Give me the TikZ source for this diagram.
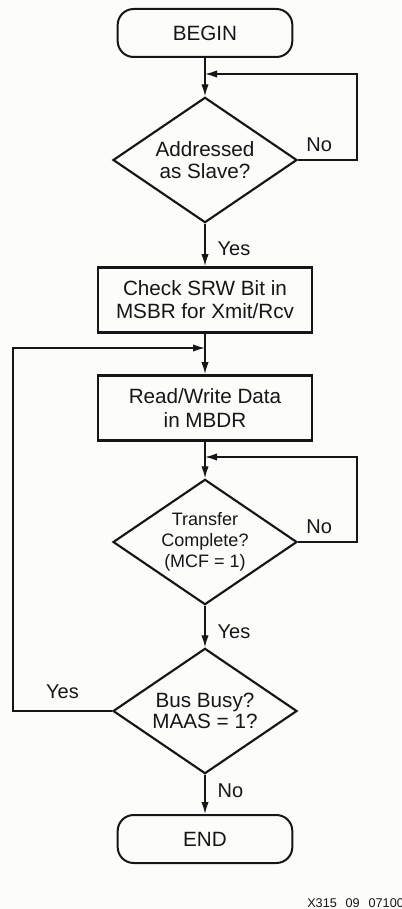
\documentclass[tikz,border=0pt]{standalone}
\usepackage{fontspec}
\setmainfont{Liberation Sans}
\usetikzlibrary{arrows.meta,shapes.geometric}

\begin{document}
\begin{tikzpicture}[x=0.75pt,y=-0.75pt,>={Latex[length=9pt,width=5.5pt]}]

\definecolor{paper}{RGB}{252,252,250}
\definecolor{ink}{RGB}{22,22,22}

% Fill background
\fill[paper] (0,0) rectangle (401,909);
\useasboundingbox (0,0) rectangle (401,909);

\tikzset{
    flow box/.style={
        draw=ink, line width=1.9pt, rectangle,
        minimum width=160.5pt, minimum height=49pt,
        inner sep=1pt, text=ink, align=center,
        font=\fontsize{15.5pt}{17.3pt}\selectfont
    },
    flow term/.style={
        flow box, line width=1.5pt, rounded corners=12pt,
        minimum width=131pt, minimum height=36pt
    },
    flow diamond/.style={
        draw=ink, line width=1.6pt, diamond, aspect=1.46,
        minimum width=138pt, minimum height=94pt,
        inner sep=0pt, text=ink, align=center,
        font=\fontsize{15.5pt}{16.3pt}\selectfont
    },
    link/.style={
        draw=ink, line width=1pt
    },
    tag/.style={
        text=ink, inner sep=2pt,
        font=\fontsize{15pt}{17pt}\selectfont
    }
}

% FLOW STEPS
\node[flow term] (Begin) at (205,33) {BEGIN};
\node[flow diamond] (Addr) at (205,160) {Addressed\\as Slave?};
\node[flow box] (Check) at (205,300) {Check SRW Bit in\\MSBR for Xmit/Rcv};
\node[flow box] (RW) at (205,408) {Read/Write Data\\in MBDR};
\node[flow diamond, font=\fontsize{13.5pt}{15.5pt}\selectfont] (Xfer) at (205,542) {Transfer\\Complete?\\(MCF = 1)};
\node[flow diamond] (Busy) at (205,711) {Bus Busy?\\MAAS = 1?};
\node[flow term] (End) at (205,839) {END};

% --- LOOP CORNERS ---
\coordinate (JoinA) at (205,74);
\coordinate (TurnA) at (357,74);
\coordinate (JoinB) at (205,348);
\coordinate (TurnB) at (13,348);
\coordinate (JoinC) at (205,457);
\coordinate (TurnC) at (357,457);

% Main line
\draw[link,->] (Begin) -- (Addr);
\draw[link,->] (Addr) -- (Check) node[tag, pos=0.6, right=7pt] (YesA) {Yes};
\draw[link,->] (Check) -- (RW);
\draw[link,->] (RW) -- (Xfer);
\draw[link,->] (Xfer) -- (Busy) node[tag, pos=0.62, right=7pt] (YesB) {Yes};
\draw[link,->] (Busy) -- (End) node[tag, pos=0.4, right=7pt] (NoC) {No};

% Loops back
\draw[link,->] (Addr.east) -| (TurnA) -- (JoinA);
\node[tag, above right=4pt] (NoA) at (Addr.east) {No};
\draw[link,->] (Xfer.east) -| (TurnC) -- (JoinC);
\node[tag, above right=4pt] (NoB) at (Xfer.east) {No};
\draw[link,->] (Busy.west) -- (TurnB |- Busy.west) node[tag, midway, above=7pt] (YesC) {Yes} -- (TurnB) -- (JoinB);

% Figure number
\node[text=ink, anchor=base west, inner sep=0pt, font=\fontsize{9.5pt}{11pt}\selectfont] (FigId) at (307,907) {X315\hspace{0.7em}09\hspace{0.7em}071000};

\end{tikzpicture}
\end{document}
